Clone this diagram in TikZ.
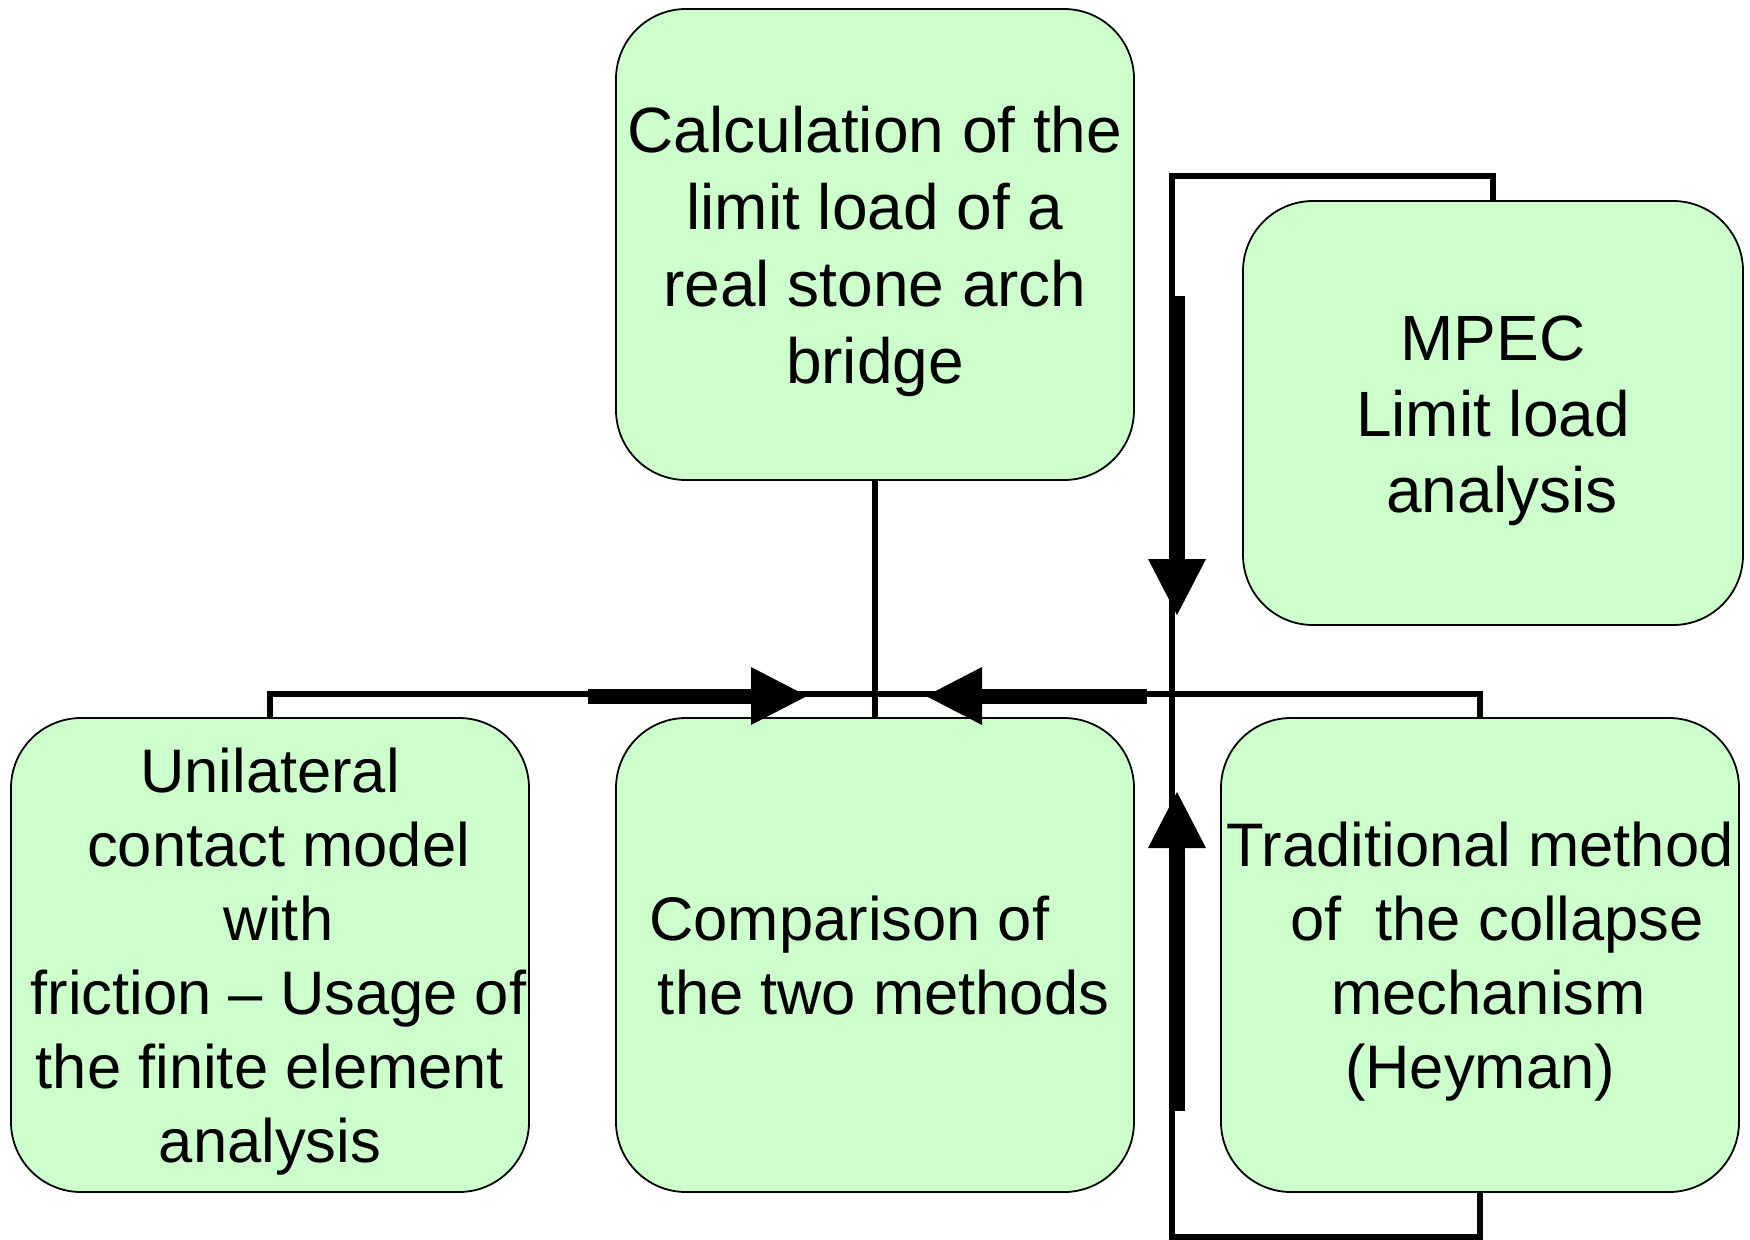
\documentclass[tikz,border=0pt]{standalone}
\usepackage{fontspec}
\setmainfont{Liberation Sans}
\usetikzlibrary{arrows.meta}
\definecolor{boxgreen}{RGB}{204,255,204}
\newcommand\lsp[1]{\kern#1em}
\newcommand\txtdown{\rule{0pt}{\dimexpr\fontcharht\font`\l+8pt\relax}}
\begin{document}
\begin{tikzpicture}[x=0.5pt,y=-0.5pt,
  box/.style={draw=black, line width=0.9pt, fill=boxgreen, rounded corners=35pt,
    inner sep=0pt, align=center, minimum width=259pt},
  toprow/.style={font=\fontsize{32}{38.5}\selectfont},
  botrow/.style={font=\fontsize{30.75}{37}\selectfont},
  conn/.style={draw=black, line width=2.6pt},
  heavy/.style={draw=black, line width=7.5pt,
    -{Triangle[length=28pt,width=29pt,line width=0pt]}}]
\useasboundingbox (0,0) rectangle (1750,1239);

% boxes
\node[box,toprow,minimum height=235.5pt] (calc) at (875,244.5)
  {\txtdown Calculation of the\\limit load of a\\real stone arch\\bridge};
\node[box,font=\fontsize{32}{38}\selectfont,minimum width=250pt,minimum height=212pt] (mpec) at (1493,413)
  {\txtdown MPEC\\Limit load\\\lsp{0.278}analysis};
\node[box,botrow,minimum height=237pt] (uni) at (270,955)
  {\txtdown Unilateral\\\lsp{0.278}contact model\\\lsp{0.278}with\\\lsp{0.278}friction – Usage of\\the finite element\\analysis};
\node[box,botrow,minimum height=237pt] (comp) at (875,955)
  {Comparison of\lsp{0.834}\\\lsp{0.278}the two methods};
\node[box,botrow,minimum height=237pt] (trad) at (1480,955)
  {\txtdown Traditional method\\\lsp{0.556}of\ \ the collapse\\\lsp{0.278}mechanism\\(Heyman)};

% thin connectors
\coordinate (bus) at (875,694);
\coordinate (loopT) at (1172,176);
\coordinate (loopB) at (1172,1237);
\draw[conn] (calc.south) -- (comp.north);
\draw[conn] (uni.north) |- (bus) -| (trad.north);
\draw[conn] (mpec.north) |- (loopT) -- (loopB) -| (trad.south);

% heavy arrows
\coordinate (hA) at (588,696);  \coordinate (hAt) at (807,696);
\coordinate (hB) at (1147,696); \coordinate (hBt) at (926,696);
\coordinate (vA) at (1177,296); \coordinate (vAt) at (1177,615);
\coordinate (vB) at (1177,1111); \coordinate (vBt) at (1177,792);
\draw[heavy] (hA) -- (hAt);
\draw[heavy] (hB) -- (hBt);
\draw[heavy] (vA) -- (vAt);
\draw[heavy] (vB) -- (vBt);
\end{tikzpicture}
\end{document}
